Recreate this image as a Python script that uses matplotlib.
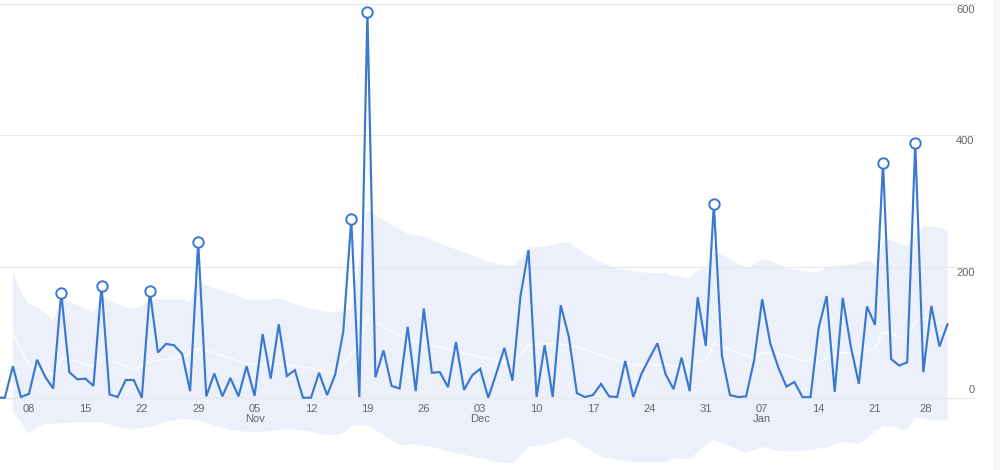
import matplotlib
matplotlib.use("Agg")
import matplotlib.pyplot as plt
import matplotlib.dates as mdates
from matplotlib.patches import Rectangle
from matplotlib.transforms import ScaledTranslation
import numpy as np
from datetime import date, timedelta

plt.rcParams['font.family'] = ['Liberation Sans', 'DejaVu Sans']

# day numbers below count from 8 Oct 2023
first_day = -4
values = [0, 0, 48, 1, 6, 58, 32, 14, 160, 39, 28, 29, 18, 171, 5, 1, 27, 27, 0, 162, 69, 82, 80, 67, 10, 237,
          2, 37, 2, 30, 2, 48, 3, 97, 29, 112, 33, 42, 0, 0, 38, 4, 35, 100, 272, 1, 588, 31, 72, 18, 14, 108,
          10, 136, 38, 39, 16, 85, 12, 34, 44, 0, 37, 76, 26, 155, 225, 1, 80, 1, 141, 93, 7, 1, 4, 21, 2, 1,
          56, 1, 36, 60, 83, 36, 13, 61, 10, 153, 79, 295, 64, 4, 1, 2, 57, 150, 83, 46, 17, 24, 1, 1, 106,
          155, 9, 152, 78, 21, 139, 111, 358, 59, 49, 54, 388, 39, 140, 78, 112]
anomaly_days = [4, 9, 15, 21, 40, 42, 85, 106, 110]

upper_days = [-2, -1, 0, 1, 2, 3, 4, 6, 8, 9, 10, 12, 13, 14, 15, 17, 19, 20, 21, 23, 25, 27, 29, 31, 33, 35, 37, 38,
              39, 40, 41, 42, 43, 45, 47, 49, 51, 53, 55, 57, 59, 60, 61, 62, 64, 66, 67, 69, 71, 73, 75, 77, 79, 80,
              81, 82, 83, 84, 85, 87, 89, 91, 92, 94, 97, 98, 99, 101, 103, 104, 105, 106, 107, 109, 110, 111, 113, 114]
upper = [192, 161, 143, 138, 129, 118, 151, 141, 129, 156, 148, 138, 135, 140, 149, 150, 150, 146, 177, 167, 159, 150,
         148, 151, 143, 136, 131, 131,
         131, 135, 210, 285, 278, 263, 250, 245, 235, 226, 217, 207, 202, 200, 212, 229, 230, 236, 236, 220, 206, 197,
         193, 190, 190, 185,
         185, 182, 195, 197, 223, 212, 197, 210, 209, 197, 192, 191, 199, 202, 205, 210, 205, 240, 240, 230, 250, 261,
         259, 256]
lower_days = [-2, 0, 1, 2, 4, 6, 8, 9, 11, 13, 15, 17, 19, 21, 23, 25, 27, 29, 31, 33, 35, 37, 38, 39, 40, 42, 44, 46,
              48, 50, 52, 54, 56, 58, 60, 62, 64, 66, 67, 69, 71, 73, 75, 79, 80, 82, 84, 85, 87, 89, 91, 93, 95, 97,
              99, 101, 103, 104, 106, 108, 109, 110, 112, 114]
lower = [-21, -55, -44, -40, -39, -38, -38, -38, -44, -48, -45, -37, -32, -34, -42, -49, -52, -52, -49, -48, -52, -57,
         -57, -54, -43, -42, -57, -72, -71, -75, -82, -87, -92, -98, -100, -75, -72, -64, -60, -75, -90, -95, -98, -98,
         -92, -94, -72, -64, -75, -84, -75, -81, -82, -79, -76, -67, -71, -62, -42, -47, -50, -29, -34, -34]
mean_days = [-2, 0, 2, 3, 4, 6, 8, 9, 11, 13, 15, 19, 21, 23, 27, 31, 35, 38, 39, 41, 42, 44, 47, 50, 54, 58, 60, 62,
             65, 68, 72, 75, 79, 82, 83, 84, 85, 87, 90, 91, 93, 96, 98, 100, 103, 105, 106, 109, 110, 111, 114]
mean = [96, 50, 40, 35, 60, 55, 47, 62, 53, 43, 55, 62, 75, 68, 52, 52, 45, 37, 50, 83, 123, 108, 88, 80, 68, 57, 52,
        80, 83, 78, 60, 50, 50, 47, 55, 57, 83, 73, 60, 68, 68, 57, 53, 68, 69, 75, 100, 90, 116, 121, 112]
x_ticks = ["2023-10-08", "2023-10-15", "2023-10-22", "2023-10-29", "2023-11-05", "2023-11-12", "2023-11-19",
           "2023-11-26", "2023-12-03", "2023-12-10", "2023-12-17", "2023-12-24", "2023-12-31", "2024-01-07",
           "2024-01-14", "2024-01-21", "2024-01-28"]
x_labels = ["08", "15", "22", "29", "05\nNov", "12", "19", "26", "03\nDec", "10", "17", "24", "31", "07\nJan", "14",
            "21", "28"]
y_ticks = [0, 200, 400, 600]

LINE = "#3b78cf"
TEXT = "#666666"
W, H = 1000, 470
origin = date(2023, 10, 8)

def on(ds):
    return mdates.date2num([origin + timedelta(days=int(d)) for d in ds])

day_list = list(range(first_day, first_day + len(values)))

fig = plt.figure(figsize=(W / 100, H / 100), dpi=100, facecolor="white")
ax = fig.add_axes([0, 0, 976 / W, 1])
ax.set_facecolor("none")
ref = mdates.date2num(origin)
ax.set_xlim(ref - 29 / 8.057, ref + (976 - 29) / 8.057)
ax.set_ylim((397.7 - 470) / 0.656, 397.7 / 0.656)

poly_x = np.concatenate([on(upper_days), on(lower_days)[::-1]])
poly_y = np.concatenate([upper, lower[::-1]])
ax.fill(poly_x, poly_y, color="#ecf0fb", lw=0, zorder=1)
ax.plot(on(mean_days), mean, color="white", lw=1.1, alpha=0.8, zorder=3)
ax.plot(on(day_list), values, color=LINE, lw=1.55, zorder=4, solid_joinstyle="miter")
ax.plot(on(anomaly_days), [values[d - first_day] for d in anomaly_days], ls="", marker="o", ms=7.5,
        mfc="white", mec=LINE, mew=1.4, zorder=5)

for s in ["top", "left", "right", "bottom"]:
    ax.spines[s].set_visible(False)
ax.spines["bottom"].set_position(("data", 0))

ax.yaxis.tick_right()
ax.set_yticks(y_ticks)
ax.grid(axis="y", color="#e8e8e8", lw=0.8)
ax.set_axisbelow("line")
ax.tick_params(axis="y", length=0, pad=-1, labelsize=8, labelcolor=TEXT)
ax.set_xticks(mdates.date2num([date.fromisoformat(t) for t in x_ticks]))
ax.set_xticklabels(x_labels)
ax.tick_params(axis="x", length=0, pad=4.5, labelsize=8, labelcolor=TEXT)
for t in ax.get_xticklabels():
    t.set_linespacing(0.95)
last = ax.get_xticklabels()[-1]
last.set_transform(last.get_transform() + ScaledTranslation(-6 / 100, 0, fig.dpi_scale_trans))
for t, v in zip(ax.get_yticklabels(), y_ticks):
    t.set_ha("right")
    t.set_va("bottom" if v == 0 else "top")
    dy = 3 if v == 0 else -1
    t.set_transform(t.get_transform() + ScaledTranslation(0, dy / 100, fig.dpi_scale_trans))

fig.add_artist(Rectangle((993 / W, 0), 7 / W, 1, transform=fig.transFigure, color="#f6f6f6", lw=0))
fig.savefig("out.png", dpi=100)
